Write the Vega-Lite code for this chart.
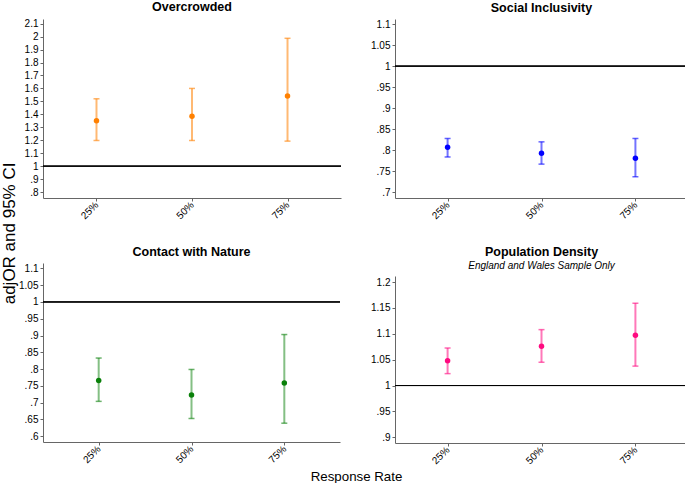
{
  "$schema": "https://vega.github.io/schema/vega-lite/v6.json",
  "padding": {"left": 0, "top": 1, "right": 0, "bottom": 0},
  "background": "white",
  "config": {
    "font": "Liberation Sans",
    "view": {"stroke": null},
    "axis": {
      "grid": false,
      "domainColor": "#666666",
      "tickColor": "#666666",
      "labelColor": "#000000",
      "labelFontSize": 10,
      "tickSize": 3,
      "labelPadding": 2,
      "labelOverlap": false,
      "title": null
    },
    "axisX": {"labelAngle": -45, "labelAlign": "right", "labelBaseline": "middle", "labelPadding": 2},
    "title": {"fontSize": 12.5, "fontWeight": "bold", "color": "#000000", "offset": 5, "subtitleFontSize": 10, "subtitleFontStyle": "italic", "subtitleColor": "#000000", "subtitlePadding": 3}
  },
  "datasets": {
    "est": [
      {"panel": "Overcrowded", "rate": "25%", "est": 1.350, "lo": 1.198, "hi": 1.520},
      {"panel": "Overcrowded", "rate": "50%", "est": 1.386, "lo": 1.198, "hi": 1.600},
      {"panel": "Overcrowded", "rate": "75%", "est": 1.541, "lo": 1.193, "hi": 1.987},
      {"panel": "Social Inclusivity", "rate": "25%", "est": 0.807, "lo": 0.784, "hi": 0.828},
      {"panel": "Social Inclusivity", "rate": "50%", "est": 0.793, "lo": 0.767, "hi": 0.820},
      {"panel": "Social Inclusivity", "rate": "75%", "est": 0.781, "lo": 0.737, "hi": 0.828},
      {"panel": "Contact with Nature", "rate": "25%", "est": 0.766, "lo": 0.704, "hi": 0.833},
      {"panel": "Contact with Nature", "rate": "50%", "est": 0.723, "lo": 0.653, "hi": 0.799},
      {"panel": "Contact with Nature", "rate": "75%", "est": 0.759, "lo": 0.639, "hi": 0.903},
      {"panel": "Population Density", "rate": "25%", "est": 1.048, "lo": 1.023, "hi": 1.0725},
      {"panel": "Population Density", "rate": "50%", "est": 1.076, "lo": 1.045, "hi": 1.108},
      {"panel": "Population Density", "rate": "75%", "est": 1.097, "lo": 1.0375, "hi": 1.159}
    ]
  },
  "title": {"text": "Response Rate", "orient": "bottom", "anchor": "middle", "fontSize": 13.3, "fontWeight": "normal", "offset": 4, "dx": 12},
  "vconcat": [
    {
      "title": {"text": "adjOR and 95% CI", "orient": "left", "anchor": "middle", "fontSize": 17, "fontWeight": "normal", "offset": 0},
      "columns": 2,
      "align": "none",
      "spacing": {"row": 24, "column": 28},
      "concat": [
        {
          "title": {"text": "Overcrowded"},
          "width": 298, "height": 179,
          "data": {"name": "est"},
          "transform": [{"filter": "datum.panel === 'Overcrowded'"}],
          "layer": [
            {"mark": {"type": "rule", "color": "#ff8000", "opacity": 0.55, "strokeWidth": 2},
             "encoding": {"x": {"field": "rate", "type": "ordinal", "scale": {"type": "point", "padding": 0.56}},
                          "y": {"field": "lo", "type": "quantitative", "scale": {"domain": [0.754, 2.136], "nice": false, "zero": false},
                                "axis": {"values": [0.8, 0.9, 1, 1.1, 1.2, 1.3, 1.4, 1.5, 1.6, 1.7, 1.8, 1.9, 2, 2.1], "tickCount": 14, "labelExpr": "datum.value < 1 ? substring(format(datum.value, '.2~f'), 1) : format(datum.value, '.2~f')"}},
                          "y2": {"field": "hi"}}},
            {"mark": {"type": "tick", "color": "#ff8000", "opacity": 0.6, "size": 6, "thickness": 1.5, "orient": "horizontal"},
             "encoding": {"x": {"field": "rate", "type": "ordinal"}, "y": {"field": "lo", "type": "quantitative"}}},
            {"mark": {"type": "tick", "color": "#ff8000", "opacity": 0.6, "size": 6, "thickness": 1.5, "orient": "horizontal"},
             "encoding": {"x": {"field": "rate", "type": "ordinal"}, "y": {"field": "hi", "type": "quantitative"}}},
            {"mark": {"type": "point", "filled": true, "opacity": 1, "size": 30, "color": "#ff8000"},
             "encoding": {"x": {"field": "rate", "type": "ordinal"}, "y": {"field": "est", "type": "quantitative"}}},
            {"mark": {"type": "rule", "color": "#000000", "strokeWidth": 1}, "encoding": {"y": {"datum": 1}}}
          ]
        },
        {
          "title": {"text": "Social Inclusivity"},
          "width": 293, "height": 179,
          "data": {"name": "est"},
          "transform": [{"filter": "datum.panel === 'Social Inclusivity'"}],
          "layer": [
            {"mark": {"type": "rule", "color": "#0000ff", "opacity": 0.55, "strokeWidth": 2},
             "encoding": {"x": {"field": "rate", "type": "ordinal", "scale": {"type": "point", "padding": 0.56}},
                          "y": {"field": "lo", "type": "quantitative", "scale": {"domain": [0.6865, 1.112], "nice": false, "zero": false},
                                "axis": {"values": [0.7, 0.75, 0.8, 0.85, 0.9, 0.95, 1, 1.05, 1.1], "tickCount": 9, "labelExpr": "datum.value < 1 ? substring(format(datum.value, '.2~f'), 1) : format(datum.value, '.2~f')"}},
                          "y2": {"field": "hi"}}},
            {"mark": {"type": "tick", "color": "#0000ff", "opacity": 0.6, "size": 6, "thickness": 1.5, "orient": "horizontal"},
             "encoding": {"x": {"field": "rate", "type": "ordinal"}, "y": {"field": "lo", "type": "quantitative"}}},
            {"mark": {"type": "tick", "color": "#0000ff", "opacity": 0.6, "size": 6, "thickness": 1.5, "orient": "horizontal"},
             "encoding": {"x": {"field": "rate", "type": "ordinal"}, "y": {"field": "hi", "type": "quantitative"}}},
            {"mark": {"type": "point", "filled": true, "opacity": 1, "size": 30, "color": "#0000ff"},
             "encoding": {"x": {"field": "rate", "type": "ordinal"}, "y": {"field": "est", "type": "quantitative"}}},
            {"mark": {"type": "rule", "color": "#000000", "strokeWidth": 1}, "encoding": {"y": {"datum": 1}}}
          ]
        },
        {
          "title": {"text": "Contact with Nature"},
          "width": 297, "height": 179,
          "data": {"name": "est"},
          "transform": [{"filter": "datum.panel === 'Contact with Nature'"}],
          "layer": [
            {"mark": {"type": "rule", "color": "#0a800a", "opacity": 0.5, "strokeWidth": 2},
             "encoding": {"x": {"field": "rate", "type": "ordinal", "scale": {"type": "point", "padding": 0.6}},
                          "y": {"field": "lo", "type": "quantitative", "scale": {"domain": [0.583, 1.116], "nice": false, "zero": false},
                                "axis": {"values": [0.6, 0.65, 0.7, 0.75, 0.8, 0.85, 0.9, 0.95, 1, 1.05, 1.1], "tickCount": 11, "labelExpr": "datum.value < 1 ? substring(format(datum.value, '.2~f'), 1) : format(datum.value, '.2~f')"}},
                          "y2": {"field": "hi"}}},
            {"mark": {"type": "tick", "color": "#0a800a", "opacity": 0.6, "size": 6, "thickness": 1.5, "orient": "horizontal"},
             "encoding": {"x": {"field": "rate", "type": "ordinal"}, "y": {"field": "lo", "type": "quantitative"}}},
            {"mark": {"type": "tick", "color": "#0a800a", "opacity": 0.6, "size": 6, "thickness": 1.5, "orient": "horizontal"},
             "encoding": {"x": {"field": "rate", "type": "ordinal"}, "y": {"field": "hi", "type": "quantitative"}}},
            {"mark": {"type": "point", "filled": true, "opacity": 1, "size": 30, "color": "#0a800a"},
             "encoding": {"x": {"field": "rate", "type": "ordinal"}, "y": {"field": "est", "type": "quantitative"}}},
            {"mark": {"type": "rule", "color": "#000000", "strokeWidth": 1}, "encoding": {"y": {"datum": 1}}}
          ]
        },
        {
          "title": {"text": "Population Density", "subtitle": "England and Wales Sample Only"},
          "width": 293, "height": 167,
          "data": {"name": "est"},
          "transform": [{"filter": "datum.panel === 'Population Density'"}],
          "layer": [
            {"mark": {"type": "rule", "color": "#ff0a80", "opacity": 0.55, "strokeWidth": 2},
             "encoding": {"x": {"field": "rate", "type": "ordinal", "scale": {"type": "point", "padding": 0.56}},
                          "y": {"field": "lo", "type": "quantitative", "scale": {"domain": [0.889, 1.2116], "nice": false, "zero": false},
                                "axis": {"values": [0.9, 0.95, 1, 1.05, 1.1, 1.15, 1.2], "tickCount": 7, "labelExpr": "datum.value < 1 ? substring(format(datum.value, '.2~f'), 1) : format(datum.value, '.2~f')"}},
                          "y2": {"field": "hi"}}},
            {"mark": {"type": "tick", "color": "#ff0a80", "opacity": 0.6, "size": 6, "thickness": 1.5, "orient": "horizontal"},
             "encoding": {"x": {"field": "rate", "type": "ordinal"}, "y": {"field": "lo", "type": "quantitative"}}},
            {"mark": {"type": "tick", "color": "#ff0a80", "opacity": 0.6, "size": 6, "thickness": 1.5, "orient": "horizontal"},
             "encoding": {"x": {"field": "rate", "type": "ordinal"}, "y": {"field": "hi", "type": "quantitative"}}},
            {"mark": {"type": "point", "filled": true, "opacity": 1, "size": 30, "color": "#ff0a80"},
             "encoding": {"x": {"field": "rate", "type": "ordinal"}, "y": {"field": "est", "type": "quantitative"}}},
            {"mark": {"type": "rule", "color": "#000000", "strokeWidth": 1}, "encoding": {"y": {"datum": 1}}}
          ]
        }
      ]
    }
  ]
}
